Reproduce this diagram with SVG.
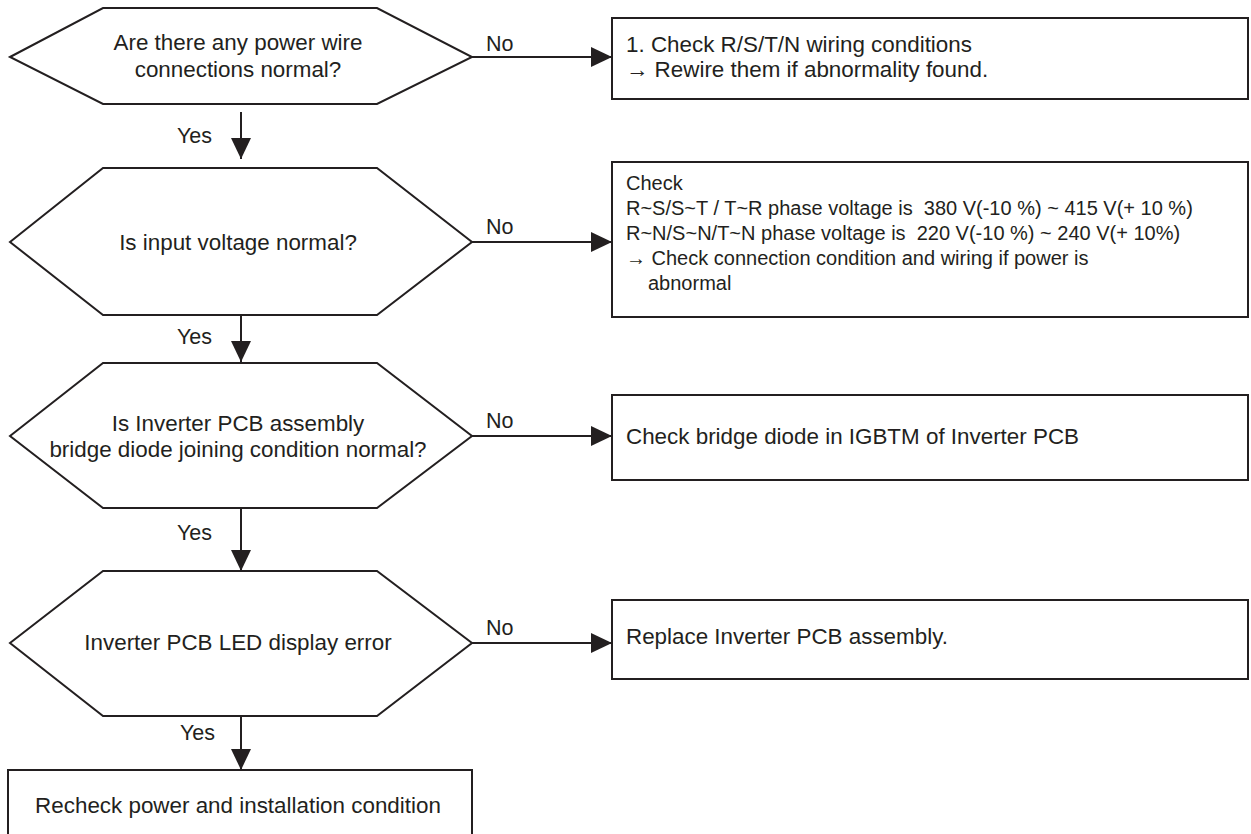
<svg xmlns="http://www.w3.org/2000/svg" width="1251" height="834" viewBox="0 0 1251 834">
<style>
  .shape { fill: #ffffff; stroke: #231f20; stroke-width: 2; }
  .conn { fill: none; stroke: #231f20; stroke-width: 2; }
  .t { font-family: "Liberation Sans", Arial, sans-serif; font-size: 22.4px; fill: #231f20; }
  .c { text-anchor: middle; }
  .lbl { font-family: "Liberation Sans", Arial, sans-serif; font-size: 21.5px; fill: #231f20; }
  .s { font-family: "Liberation Sans", Arial, sans-serif; font-size: 20px; fill: #231f20; }
</style>
<defs>
  <marker id="arr" markerUnits="userSpaceOnUse" markerWidth="21" markerHeight="20" refX="21" refY="10" orient="auto">
    <path d="M0,0 L21,10 L0,20 Z" fill="#231f20"/>
  </marker>
</defs>
<rect width="1251" height="834" fill="#ffffff"/>

<g id="q1">
  <polygon class="shape" points="10,57 103,8 377,8 472,57 377,104 103,104"/>
  <text class="t c" x="238" y="50">Are there any power wire</text>
  <text class="t c" x="238" y="77">connections normal?</text>
</g>
<g id="a1">
  <rect class="shape" x="612" y="18" width="636" height="81"/>
  <text class="t" x="626" y="52">1. Check R/S/T/N wiring conditions</text>
  <text class="t" x="626" y="77">→ Rewire them if abnormality found.</text>
</g>

<g id="q2">
  <polygon class="shape" points="10,242 103,168 377,168 472,242 377,315 103,315"/>
  <text class="t c" x="238" y="250">Is input voltage normal?</text>
</g>
<g id="a2">
  <rect class="shape" x="612" y="162" width="636" height="155"/>
  <text class="s" x="626" y="190">Check</text>
  <text class="s" x="626" y="215" xml:space="preserve">R~S/S~T / T~R phase voltage is  380 V(-10 %) ~ 415 V(+ 10 %)</text>
  <text class="s" x="626" y="240" xml:space="preserve">R~N/S~N/T~N phase voltage is  220 V(-10 %) ~ 240 V(+ 10%)</text>
  <text class="s" x="626" y="265">→ Check connection condition and wiring if power is</text>
  <text class="s" x="648" y="290">abnormal</text>
</g>

<g id="q3">
  <polygon class="shape" points="10,436 103,363 377,363 472,436 377,508 103,508"/>
  <text class="t c" x="238" y="431">Is Inverter PCB assembly</text>
  <text class="t c" x="238" y="457">bridge diode joining condition normal?</text>
</g>
<g id="a3">
  <rect class="shape" x="612" y="395" width="636" height="85"/>
  <text class="t" x="626" y="444">Check bridge diode in IGBTM of Inverter PCB</text>
</g>

<g id="q4">
  <polygon class="shape" points="10,643 103,571 377,571 472,643 377,716 103,716"/>
  <text class="t c" x="238" y="650">Inverter PCB LED display error</text>
</g>
<g id="a4">
  <rect class="shape" x="612" y="600" width="636" height="79"/>
  <text class="t" x="626" y="644">Replace Inverter PCB assembly.</text>
</g>

<g id="end">
  <rect class="shape" x="8" y="770" width="464" height="80"/>
  <text class="t c" x="238" y="813">Recheck power and installation condition</text>
</g>

<g id="connectors">
  <line class="conn" x1="472" y1="57" x2="612" y2="57" marker-end="url(#arr)"/>
  <line class="conn" x1="472" y1="242" x2="612" y2="242" marker-end="url(#arr)"/>
  <line class="conn" x1="472" y1="436" x2="612" y2="436" marker-end="url(#arr)"/>
  <line class="conn" x1="472" y1="643" x2="612" y2="643" marker-end="url(#arr)"/>
  <line class="conn" x1="241" y1="112" x2="241" y2="159" marker-end="url(#arr)"/>
  <line class="conn" x1="241" y1="315" x2="241" y2="362" marker-end="url(#arr)"/>
  <line class="conn" x1="241" y1="508" x2="241" y2="571" marker-end="url(#arr)"/>
  <line class="conn" x1="241" y1="716" x2="241" y2="770" marker-end="url(#arr)"/>
  <text class="lbl" x="486" y="51">No</text>
  <text class="lbl" x="486" y="234">No</text>
  <text class="lbl" x="486" y="428">No</text>
  <text class="lbl" x="486" y="635">No</text>
  <text class="lbl" x="177" y="143">Yes</text>
  <text class="lbl" x="177" y="344">Yes</text>
  <text class="lbl" x="177" y="540">Yes</text>
  <text class="lbl" x="180" y="740">Yes</text>
</g>
</svg>
